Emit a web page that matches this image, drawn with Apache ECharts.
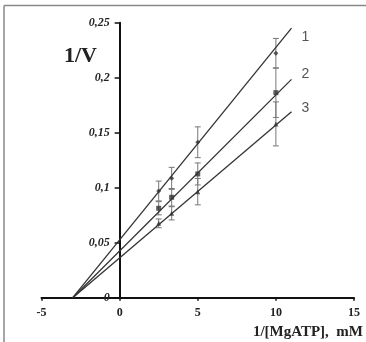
<!DOCTYPE html>
<html><head><meta charset="utf-8">
<script src="https://cdn.jsdelivr.net/npm/echarts@6/dist/echarts.min.js"></script>
<style>html,body{margin:0;padding:0;background:#fff}#c{width:366px;height:342px}</style>
</head><body><div id="c"></div>
<script>
const xVals = [2.5, 3.33, 5, 10];
const s1 = [0.097, 0.1085, 0.1413, 0.2222];
const s2 = [0.0813, 0.0913, 0.1125, 0.1864];
const s3 = [0.0676, 0.0767, 0.0964, 0.158];
const e1 = [0.009, 0.01, 0.014, 0.0135];
const e2 = [0.006, 0.008, 0.01, 0.0225];
const e3 = [0.004, 0.006, 0.012, 0.02];
const fit1 = [[-3, 0], [11, 0.245]];
const fit2 = [[-3, 0], [11, 0.1985]];
const fit3 = [[-3, 0], [11, 0.169]];
const lineLabels = ['1', '2', '3'];
const xTicks = [-5, 0, 5, 10, 15];
const yTicks = [0, 0.05, 0.1, 0.15, 0.2, 0.25];

const serif = 'Liberation Serif';
const chart = echarts.init(document.getElementById('c'));
const pts = (ys) => xVals.map((x, i) => [x, ys[i]]);
const errData = (ys, es) => xVals.map((x, i) => [x, ys[i] - es[i], ys[i] + es[i]]);
function errSeries(ys, es) {
  return {
    type: 'custom', z: 3,
    data: errData(ys, es),
    renderItem: function (params, api) {
      const lo = api.coord([api.value(0), api.value(1)]);
      const hi = api.coord([api.value(0), api.value(2)]);
      const w = 3;
      const st = { stroke: '#777', lineWidth: 1 };
      return { type: 'group', children: [
        { type: 'line', shape: { x1: lo[0], y1: lo[1], x2: hi[0], y2: hi[1] }, style: st },
        { type: 'line', shape: { x1: lo[0] - w, y1: lo[1], x2: lo[0] + w, y2: lo[1] }, style: st },
        { type: 'line', shape: { x1: hi[0] - w, y1: hi[1], x2: hi[0] + w, y2: hi[1] }, style: st }
      ]};
    }
  };
}
function fitSeries(d, label, off) {
  return {
    type: 'line', data: d, symbol: 'none', z: 4,
    lineStyle: { color: '#333', width: 1.3 },
    endLabel: { show: true, formatter: label, color: '#555', fontFamily: 'Liberation Sans', fontSize: 14, offset: off }
  };
}
function ptSeries(ys, sym) {
  return { type: 'scatter', data: pts(ys), symbol: sym, symbolSize: 5, z: 5, itemStyle: { color: '#333' } };
}

const gridLeft = 41.5, gridRight = 12;
const plotW = 366 - gridLeft - gridRight;
const yAxisShift = plotW * (0 - (-5)) / (15 - (-5));

chart.setOption({
  animation: false,
  grid: { left: gridLeft, right: gridRight, top: 22.7, height: 275 },
  graphic: [
    { type: 'line', shape: { x1: 4, y1: 5.5, x2: 366, y2: 5.5 }, style: { stroke: '#888', lineWidth: 1.5 } },
    { type: 'line', shape: { x1: 4, y1: 5.5, x2: 4, y2: 342 }, style: { stroke: '#888', lineWidth: 1.5 } },
    { type: 'text', left: 64, top: 45, style: { text: '1/V', font: 'bold 22px "Liberation Serif"', fill: '#222' } },
    { type: 'text', right: 3, top: 325, style: { text: '1/[MgATP],  mM', font: 'bold 15px "Liberation Serif"', fill: '#222' } }
  ],
  xAxis: {
    type: 'value', min: -5, max: 15, interval: 5,
    axisLine: { show: true, onZero: false, lineStyle: { color: '#111', width: 2 } },
    axisTick: { show: true, inside: false, length: 3, lineStyle: { color: '#111', width: 1.5 } },
    axisLabel: { color: '#222', fontFamily: serif, fontWeight: 'bold', fontSize: 12, margin: 9,
      formatter: v => xTicks.includes(v) ? String(v) : '' },
    splitLine: { show: false }
  },
  yAxis: {
    type: 'value', min: 0, max: 0.25, interval: 0.05,
    offset: -yAxisShift,
    axisLine: { show: true, onZero: false, lineStyle: { color: '#111', width: 2 } },
    axisTick: { show: true, length: 5, lineStyle: { color: '#111', width: 1.5 } },
    axisLabel: { color: '#222', fontFamily: serif, fontWeight: 'bold', fontStyle: 'italic', fontSize: 12, margin: 10,
      formatter: v => { const t = yTicks.find(y => Math.abs(y - v) < 1e-9); return t === undefined ? '' : String(+t.toFixed(2)).replace('.', ','); } },
    splitLine: { show: false }
  },
  series: [
    fitSeries(fit1, lineLabels[0], [2, 9]), fitSeries(fit2, lineLabels[1], [2, -5]), fitSeries(fit3, lineLabels[2], [2, -4]),
    errSeries(s1, e1), errSeries(s2, e2), errSeries(s3, e3),
    ptSeries(s1, 'diamond'), ptSeries(s2, 'rect'), ptSeries(s3, 'triangle')
  ]
});
</script></body></html>
